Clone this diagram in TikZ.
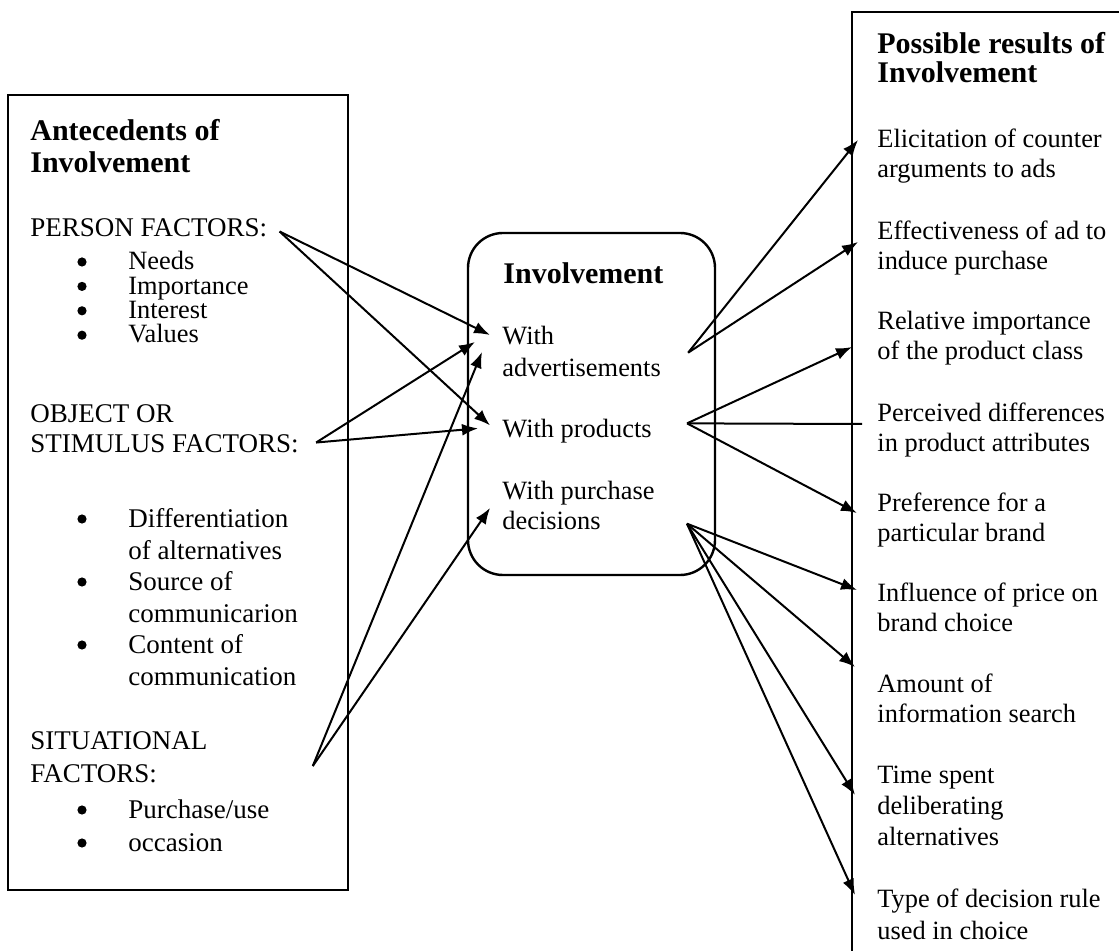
\documentclass[tikz,border=0pt]{standalone}
\usepackage{fontspec}
\setmainfont{Liberation Serif}
\usetikzlibrary{arrows.meta}

\begin{document}
\begin{tikzpicture}[
    x=0.5pt, y=-0.5pt,
    frame/.style={draw, line width=1.2pt},
    lbl/.style={anchor=north west, inner sep=0pt, align=left, font=\fontsize{13.5}{15}\selectfont},
    item/.style={anchor=north west, inner sep=0pt, align=left, font=\fontsize{13.2}{15}\selectfont},
    head/.style={anchor=north west, inner sep=0pt, align=left, font=\fontsize{15}{16}\selectfont\bfseries},
    dot/.style={circle, fill, inner sep=0pt, minimum size=4.6pt},
    link/.style={-{Latex[length=8pt,width=6pt]}, line width=1pt},
    bare/.style={-, line width=1pt}
]
    \useasboundingbox (0,0) rectangle (1119,951);
    \clip (0,0) rectangle (1119,951);

    % Caixa da esquerda: antecedentes
    \draw[frame] (8,95) rectangle (348,890);
    \node[head] (antHead) at (30,119) {Antecedents of\\Involvement};
    \node[lbl] (person) at (30,218) {PERSON FACTORS:};
    \node[lbl, font=\fontsize{13.2}{12.2}\selectfont] (personList) at (128,251) {Needs\\Importance\\Interest\\Values};
    \foreach \y [count=\i] in {269,293.4,317.8,342.2}
        \node[dot] (pDot\i) at (82,\y-7) {};
    \node[lbl] (object) at (30,404) {OBJECT OR\\STIMULUS FACTORS:};
    \node[lbl, font=\fontsize{13.5}{15.8}\selectfont] (objectList) at (128,508) {Differentiation\\of alternatives\\Source of\\communicarion\\Content of\\communication};
    \foreach \y [count=\i] in {526,589,652}
        \node[dot] (oDot\i) at (82,\y-7) {};
    \node[lbl, font=\fontsize{13.5}{16.5}\selectfont] (situ) at (30,731) {SITUATIONAL\\FACTORS:};
    \node[lbl, font=\fontsize{13.5}{16.5}\selectfont] (situList) at (128,799) {Purchase/use\\occasion};
    \foreach \y [count=\i] in {817,850}
        \node[dot] (sDot\i) at (82,\y-7) {};

    % Caixa do meio: envolvimento
    \draw[frame, rounded corners=17.5pt] (468,233) rectangle (715,575);
    \node[head] (invHead) at (503,262) {Involvement};
    \node[item, font=\fontsize{13.2}{16}\selectfont] (adv) at (502,326) {With\\advertisements};
    \node[item] (prod) at (502,419) {With products};
    \node[item] (dec) at (502,481) {With purchase\\decisions};

    % Caixa da direita: resultados
    \draw[frame] (852,12) rectangle (1140,980);
    \node[head, font=\fontsize{15}{14.5}\selectfont\bfseries] (resHead) at (877,32) {Possible results of\\Involvement};
    \node[item] (elic) at (877,129) {Elicitation of counter\\arguments to ads};
    \node[item] (effect) at (877,221) {Effectiveness of ad to\\induce purchase};
    \node[item] (relImp) at (877,311) {Relative importance\\of the product class};
    \node[item] (perc) at (877,403) {Perceived differences\\in product attributes};
    \node[item] (pref) at (877,493) {Preference for a\\particular brand};
    \node[item] (price) at (877,583) {Influence of price on\\brand choice};
    \node[item] (search) at (877,674) {Amount of\\information search};
    \node[item, font=\fontsize{13.2}{15.5}\selectfont] (timeSp) at (877,766) {Time spent\\deliberating\\alternatives};
    \node[item, font=\fontsize{13.2}{16}\selectfont] (rule) at (877,889) {Type of decision rule\\used in choice};

    % Setas dos antecedentes para o envolvimento
    \draw[link] ([shift={(12,4)}]person.east) -- ([shift={(-12,9)}]adv.north west);
    \draw[link] ([shift={(12,4)}]person.east) -- ([shift={(-12,-6)}]prod.west);
    \draw[link] ([shift={(17,14)}]object.east) -- ([shift={(-27,16)}]adv.north west);
    \draw[link] ([shift={(17,14)}]object.east) -- ([shift={(-24,-3)}]prod.west);
    \draw[link] ([shift={(105,9)}]situ.east) -- ([shift={(-20,26)}]adv.north west);
    \draw[link] ([shift={(105,9)}]situ.east) -- ([shift={(-12,27)}]dec.north west);

    % Setas do envolvimento para os resultados
    \draw[link] ([shift={(27,1)}]adv.east) -- ([shift={(-19,11)}]elic.north west);
    \draw[link] ([shift={(27,1)}]adv.east) -- ([shift={(-19,21)}]effect.north west);
    \draw[link] ([shift={(35,-8)}]prod.east) -- ([shift={(-25,36)}]relImp.north west);
    \draw[bare] ([shift={(35,-8)}]prod.east) -- ([shift={(-15,21)}]perc.north west);
    \draw[link] ([shift={(35,-8)}]prod.east) -- ([shift={(-20,20)}]pref.north west);
    \draw[link] ([shift={(32,18)}]dec.east) -- ([shift={(-20,7)}]price.north west);
    \draw[link] ([shift={(32,18)}]dec.east) -- ([shift={(-22,-7)}]search.north west);
    \draw[link] ([shift={(32,18)}]dec.east) -- ([shift={(-22,29)}]timeSp.north west);
    \draw[link] ([shift={(32,18)}]dec.east) -- ([shift={(-22,6)}]rule.north west);

\end{tikzpicture}
\end{document}
